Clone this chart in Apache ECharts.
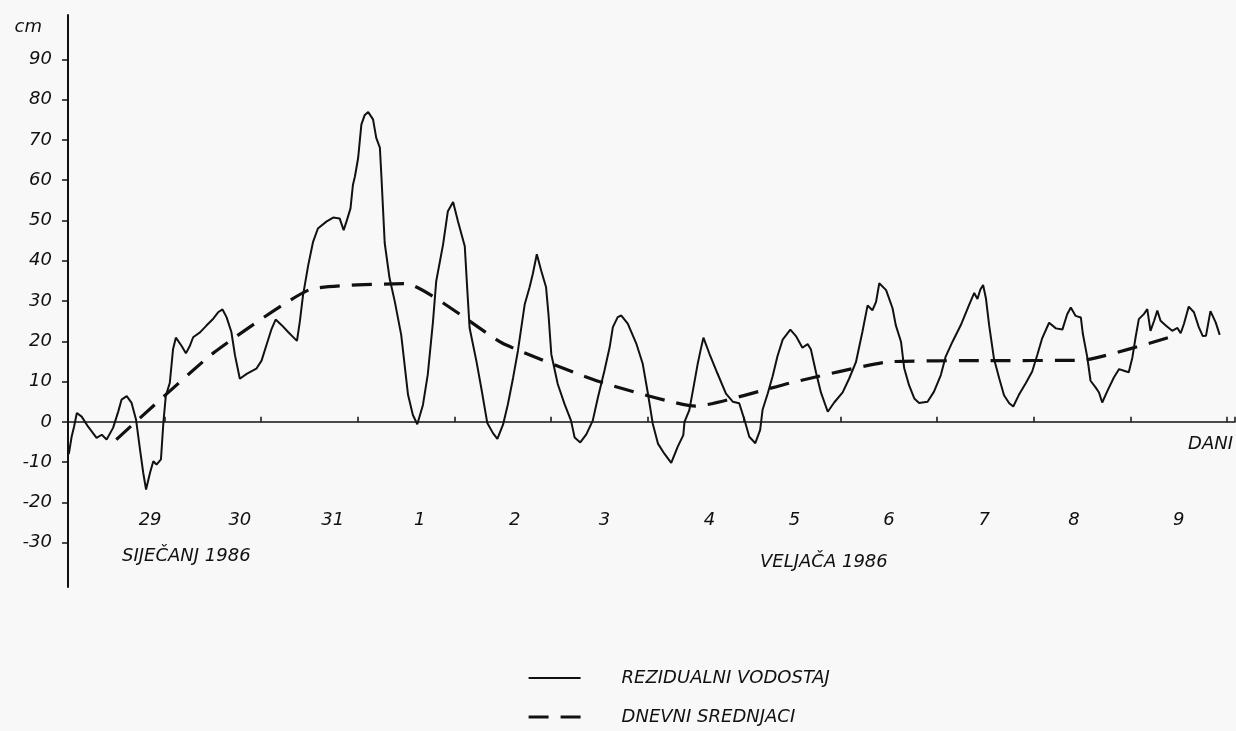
<!DOCTYPE html>
<html>
<head>
<meta charset="utf-8">
<script src="https://cdn.jsdelivr.net/npm/echarts@6/dist/echarts.min.js"></script>
<style>
  html, body { margin: 0; padding: 0; background: #f8f8f8; }
  #chart { width: 1236px; height: 731px; }
</style>
</head>
<body>
<div id="chart"></div>
<script>
// hours since 29 Jan 00h, residual water level (cm)
const residual = [
  [0.2,-8.0],[0.9,-3.7],[1.5,-1.2],[2.2,2.2],[3.4,1.3],[5.0,-1.2],[7.1,-4.0],[8.4,-3.2],[9.6,-4.4],
  [11.2,-1.5],[12.5,2.6],[13.3,5.5],[14.6,6.4],[15.8,4.7],[16.9,0.6],[17.9,-6.9],[18.7,-12.7],
  [19.4,-16.8],[20.4,-12.6],[21.2,-9.8],[22.0,-10.6],[23.1,-9.3],[23.7,-0.2],[24.3,6.4],[25.3,9.7],
  [26.1,18.0],[26.8,20.9],[28.2,18.9],[29.3,17.0],[30.3,18.9],[31.1,21.0],[32.8,22.2],[34.4,23.9],
  [36.1,25.6],[37.3,27.2],[38.4,27.9],[39.4,26.0],[40.6,22.3],[41.5,16.5],[42.7,10.7],[44.4,11.9],
  [46.8,13.2],[48.1,15.2],[49.3,19.0],[50.6,23.1],[51.6,25.4],[53.1,24.0],[54.7,22.3],[55.9,21.1],
  [56.9,20.1],[57.6,24.8],[58.4,31.4],[59.7,38.9],[60.9,44.7],[62.1,48.0],[64.2,49.7],[65.9,50.7],
  [67.5,50.5],[68.5,47.6],[69.2,49.7],[70.2,53.0],[70.8,58.8],[71.3,60.9],[72.1,65.5],[72.9,73.8],
  [73.7,76.1],[74.6,76.9],[75.8,75.1],[76.6,70.5],[77.5,68.1],[77.9,60.6],[78.7,44.4],[79.9,35.7],
  [81.2,29.9],[82.8,21.6],[84.5,6.7],[85.7,1.7],[86.8,-0.6],[88.2,4.2],[89.4,11.7],[90.7,24.9],
  [91.5,34.9],[93.2,44.0],[94.4,52.3],[95.7,54.6],[96.9,49.8],[98.6,43.6],[99.2,33.2],[99.8,23.3],
  [101.5,15.0],[102.7,8.4],[104.2,-0.3],[105.6,-2.8],[106.7,-4.2],[108.1,-0.7],[109.3,4.3],
  [110.6,10.9],[111.8,17.6],[113.5,29.2],[114.7,33.4],[115.5,36.7],[116.5,41.6],[117.6,37.5],
  [118.8,33.4],[119.4,26.7],[120.1,16.8],[121.7,9.4],[123.4,4.4],[125.0,0.3],[125.9,-3.9],
  [127.3,-5.1],[128.8,-3.1],[130.4,0.3],[131.7,6.1],[133.3,12.7],[134.6,18.5],[135.4,23.5],
  [136.6,26.0],[137.5,26.4],[139.1,24.4],[141.2,19.5],[142.8,14.5],[144.1,7.1],[145.3,-0.4],
  [146.6,-5.4],[148.2,-7.9],[149.9,-10.2],[151.5,-6.2],[152.9,-3.3],[153.2,0.0],[154.4,2.9],
  [155.6,9.5],[156.5,14.5],[157.2,17.8],[157.9,20.9],[159.4,16.9],[161.4,12.0],[163.5,7.0],
  [165.2,5.0],[166.8,4.6],[168.1,0.5],[169.3,-3.7],[170.8,-5.3],[172.0,-2.0],[172.6,3.0],
  [173.9,7.1],[175.1,11.3],[176.3,16.3],[177.6,20.4],[179.5,22.9],[180.9,21.3],[182.5,18.4],
  [183.8,19.3],[184.6,18.0],[185.9,12.2],[187.1,7.3],[188.8,2.5],[190.4,4.8],[192.5,7.3],
  [194.1,10.7],[195.8,14.8],[197.4,22.3],[198.7,28.9],[199.9,27.7],[200.8,29.8],[201.6,34.4],
  [203.3,32.7],[204.9,28.2],[205.7,24.0],[207.0,19.9],[207.8,13.3],[209.0,9.1],[210.3,5.8],
  [211.5,4.7],[213.6,5.0],[215.2,7.5],[216.9,11.6],[218.1,16.2],[219.8,19.9],[221.9,24.1],
  [223.9,29.0],[225.2,32.0],[226.0,30.5],[226.7,32.8],[227.4,34.0],[228.1,30.7],[228.9,24.0],
  [230.1,15.7],[231.4,10.8],[232.6,6.6],[233.9,4.6],[234.9,3.8],[236.3,6.7],[238.0,9.6],
  [239.6,12.5],[240.9,16.7],[242.1,20.8],[243.8,24.6],[245.5,23.2],[247.1,22.9],[248.3,26.7],
  [249.2,28.4],[250.4,26.3],[251.7,25.9],[252.2,21.8],[253.3,16.0],[254.1,10.2],[255.4,8.5],
  [256.2,7.3],[257.0,4.8],[258.3,7.7],[259.9,11.0],[261.2,13.1],[262.4,12.7],[263.6,12.3],
  [264.5,16.0],[265.3,21.0],[266.1,25.5],[267.4,26.8],[268.2,28.0],[269.0,22.6],[269.9,25.1],
  [270.7,27.6],[271.5,25.1],[272.8,23.9],[274.4,22.6],[275.7,23.3],[276.5,22.0],[277.3,24.3],
  [278.5,28.6],[279.8,27.2],[281.0,23.5],[282.0,21.3],[282.8,21.4],[283.9,27.5],[285.2,24.7],
  [286.2,21.6]
];
// daily means, plotted at noon of each day
const dailyMeans = [
  [12,-4.4],[36,17.0],[60,32.8],[84,34.3],[108,19.5],[132,10.0],
  [156,3.9],[180,9.8],[204,14.9],[228,15.2],[252,15.3],[276,21.7]
];
const yTicks = [-30,-20,-10,0,10,20,30,40,50,60,70,80,90];
const dayLabels = ['29','30','31','1','2','3','4','5','6','7','8','9'];
const dayLabelHours = [20.4,42.7,65.8,87.4,111,133.3,159.4,180.5,204,227.7,250,276];
const monthLabels = ['SIJEČANJ 1986','VELJAČA 1986'];
const seriesNames = ['REZIDUALNI VODOSTAJ','DNEVNI SREDNJACI'];

const ink = '#111';
const font = 'DejaVu Sans';
const dashPattern = [20, 12];
const chart = echarts.init(document.getElementById('chart'));
chart.setOption({
  backgroundColor: '#f8f8f8',
  animation: false,
  textStyle: { fontFamily: font, fontStyle: 'italic', color: ink },
  grid: { left: 68, right: 0, top: 15, bottom: 144, containLabel: false },
  xAxis: [{
    type: 'value', min: 0, max: 290, interval: 24,
    axisLine: { onZero: true, lineStyle: { color: ink, width: 1.5 } },
    axisTick: { inside: true, length: 5, lineStyle: { color: ink, width: 1.5 } },
    axisLabel: { show: false },
    splitLine: { show: false },
    name: 'DANI', nameLocation: 'end', nameGap: -2,
    nameTextStyle: { fontFamily: font, fontStyle: 'italic', fontSize: 18, color: ink,
      align: 'right', verticalAlign: 'top', padding: [13, 0, 0, 0] }
  }, {
    type: 'value', min: 0, max: 290, position: 'bottom', offset: -76,
    axisLine: { show: false }, axisTick: { show: false }, splitLine: { show: false },
    axisLabel: {
      customValues: dayLabelHours, margin: 0,
      fontFamily: font, fontStyle: 'italic', fontSize: 18, color: ink,
      formatter: function (v) {
        for (let i = 0; i < dayLabelHours.length; i++) {
          if (Math.abs(dayLabelHours[i] - v) < 0.01) return dayLabels[i];
        }
        return '';
      }
    }
  }],
  yAxis: {
    type: 'value', min: -41, max: 101,
    axisLine: { show: true, onZero: false, lineStyle: { color: ink, width: 2 } },
    axisTick: { show: true, length: 6, customValues: yTicks, lineStyle: { color: ink, width: 1.5 } },
    axisLabel: { customValues: yTicks, margin: 16, fontFamily: font, fontStyle: 'italic', fontSize: 18, color: ink },
    splitLine: { show: false },
    name: 'cm', nameLocation: 'end', nameGap: -12,
    nameTextStyle: { fontFamily: font, fontStyle: 'italic', fontSize: 18, color: ink,
      align: 'right', verticalAlign: 'middle', padding: [0, 26, 0, 0] }
  },
  legend: {
    orient: 'vertical', left: 527, top: 668, padding: 0,
    itemWidth: 52, itemHeight: 14, itemGap: 19,
    itemStyle: { opacity: 0 },
    textStyle: { fontFamily: font, fontStyle: 'italic', fontSize: 18, lineHeight: 20, color: ink, padding: [0, 0, 0, 36] },
    data: [
      { name: seriesNames[0], itemStyle: { opacity: 0 }, lineStyle: { type: 'solid', width: 2, color: ink } },
      { name: seriesNames[1], itemStyle: { opacity: 0 }, lineStyle: { type: dashPattern, width: 3.2, color: ink } }
    ]
  },
  series: [{
    name: seriesNames[0], type: 'line', data: residual, symbol: 'none',
    lineStyle: { color: ink, width: 2 }, itemStyle: { color: ink }
  }, {
    name: seriesNames[1], type: 'line', data: dailyMeans, symbol: 'none',
    smooth: 0.15,
    lineStyle: { color: ink, width: 3.2, type: dashPattern }, itemStyle: { color: ink }
  }],
  graphic: [
    { type: 'text', left: 122, top: 547, style: { text: monthLabels[0], font: 'italic 18px "DejaVu Sans"', fill: ink } },
    { type: 'text', left: 760, top: 553, style: { text: monthLabels[1], font: 'italic 18px "DejaVu Sans"', fill: ink } }
  ]
});
</script>
</body>
</html>
